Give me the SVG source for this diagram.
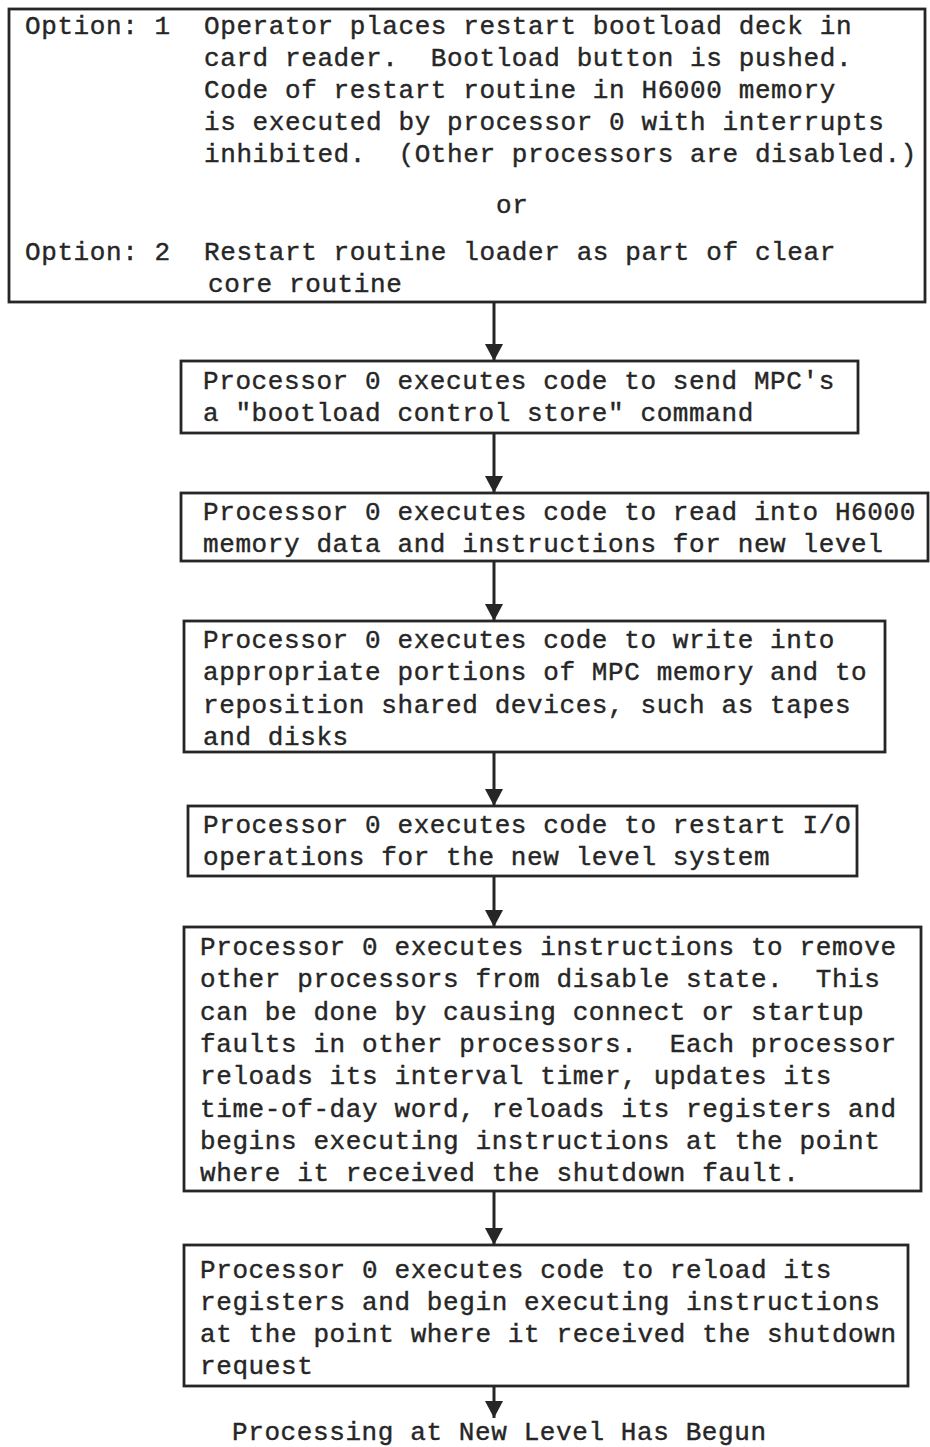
<svg xmlns="http://www.w3.org/2000/svg" width="930" height="1447" viewBox="0 0 930 1447">
<style>
  .box { fill: #ffffff; stroke: #262626; stroke-width: 2.8; }
  .t { font-family: "Liberation Mono", "Courier New", monospace; font-size: 26px; letter-spacing: 0.6px; fill: #262626; stroke: #262626; stroke-width: 0.4; white-space: pre; }
  .conn { stroke: #262626; stroke-width: 3; fill: none; }
</style>
<defs>
  <marker id="arrow" viewBox="0 0 17 18" refX="17" refY="9" markerWidth="17" markerHeight="18" markerUnits="userSpaceOnUse" orient="auto">
    <path d="M0,0 L17,9 L0,18 Z" fill="#262626"/>
  </marker>
</defs>
<rect width="930" height="1447" fill="#ffffff"/>

<g id="connectors">
  <line class="conn" x1="494" y1="303" x2="494" y2="361" marker-end="url(#arrow)"/>
  <line class="conn" x1="494" y1="433" x2="494" y2="493" marker-end="url(#arrow)"/>
  <line class="conn" x1="494" y1="561" x2="494" y2="621" marker-end="url(#arrow)"/>
  <line class="conn" x1="494" y1="752" x2="494" y2="806" marker-end="url(#arrow)"/>
  <line class="conn" x1="494" y1="876" x2="494" y2="927" marker-end="url(#arrow)"/>
  <line class="conn" x1="494" y1="1191" x2="494" y2="1245" marker-end="url(#arrow)"/>
  <line class="conn" x1="494" y1="1386" x2="494" y2="1418" marker-end="url(#arrow)"/>
</g>

<g id="node-start">
  <rect class="box" x="9" y="9" width="916" height="293"/>
  <text class="t" x="25" y="34" xml:space="preserve">Option: 1</text>
  <text class="t" x="204" y="34" xml:space="preserve">Operator places restart bootload deck in</text>
  <text class="t" x="204" y="66" xml:space="preserve">card reader.  Bootload button is pushed.</text>
  <text class="t" x="204" y="98" xml:space="preserve">Code of restart routine in H6000 memory</text>
  <text class="t" x="204" y="130" xml:space="preserve">is executed by processor 0 with interrupts</text>
  <text class="t" x="204" y="162" xml:space="preserve">inhibited.  (Other processors are disabled.)</text>
  <text class="t" x="496" y="213">or</text>
  <text class="t" x="25" y="260" xml:space="preserve">Option: 2</text>
  <text class="t" x="204" y="260" xml:space="preserve">Restart routine loader as part of clear</text>
  <text class="t" x="208" y="292" xml:space="preserve">core routine</text>
</g>

<g id="node-send">
  <rect class="box" x="181" y="361" width="677" height="72"/>
  <text class="t" x="203" y="389" xml:space="preserve">Processor 0 executes code to send MPC's</text>
  <text class="t" x="203" y="421" xml:space="preserve">a "bootload control store" command</text>
</g>

<g id="node-read">
  <rect class="box" x="181" y="493" width="747" height="68"/>
  <text class="t" x="203" y="520" xml:space="preserve">Processor 0 executes code to read into H6000</text>
  <text class="t" x="203" y="552" xml:space="preserve">memory data and instructions for new level</text>
</g>

<g id="node-write">
  <rect class="box" x="184" y="621" width="701" height="131"/>
  <text class="t" x="203" y="648" xml:space="preserve">Processor 0 executes code to write into</text>
  <text class="t" x="203" y="680" xml:space="preserve">appropriate portions of MPC memory and to</text>
  <text class="t" x="203" y="713" xml:space="preserve">reposition shared devices, such as tapes</text>
  <text class="t" x="203" y="745" xml:space="preserve">and disks</text>
</g>

<g id="node-restart-io">
  <rect class="box" x="188" y="806" width="669" height="70"/>
  <text class="t" x="203" y="833" xml:space="preserve">Processor 0 executes code to restart I/O</text>
  <text class="t" x="203" y="865" xml:space="preserve">operations for the new level system</text>
</g>

<g id="node-remove-disable">
  <rect class="box" x="184" y="927" width="737" height="264"/>
  <text class="t" x="200" y="955" xml:space="preserve">Processor 0 executes instructions to remove</text>
  <text class="t" x="200" y="987" xml:space="preserve">other processors from disable state.  This</text>
  <text class="t" x="200" y="1020" xml:space="preserve">can be done by causing connect or startup</text>
  <text class="t" x="200" y="1052" xml:space="preserve">faults in other processors.  Each processor</text>
  <text class="t" x="200" y="1084" xml:space="preserve">reloads its interval timer, updates its</text>
  <text class="t" x="200" y="1117" xml:space="preserve">time-of-day word, reloads its registers and</text>
  <text class="t" x="200" y="1149" xml:space="preserve">begins executing instructions at the point</text>
  <text class="t" x="200" y="1181" xml:space="preserve">where it received the shutdown fault.</text>
</g>

<g id="node-reload">
  <rect class="box" x="184" y="1245" width="724" height="141"/>
  <text class="t" x="200" y="1278" xml:space="preserve">Processor 0 executes code to reload its</text>
  <text class="t" x="200" y="1310" xml:space="preserve">registers and begin executing instructions</text>
  <text class="t" x="200" y="1342" xml:space="preserve">at the point where it received the shutdown</text>
  <text class="t" x="200" y="1374" xml:space="preserve">request</text>
</g>

<g id="node-end">
  <text class="t" x="232" y="1440" xml:space="preserve">Processing at New Level Has Begun</text>
</g>
</svg>
